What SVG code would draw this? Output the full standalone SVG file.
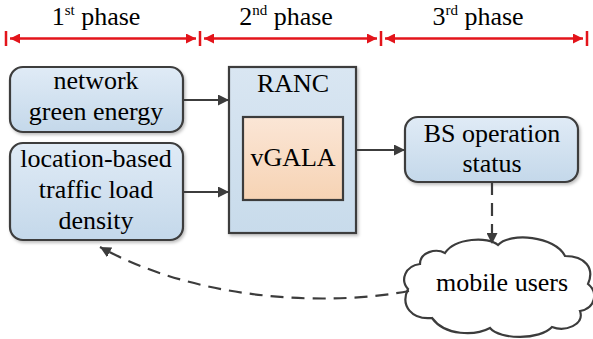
<svg xmlns="http://www.w3.org/2000/svg" width="593" height="339" viewBox="0 0 593 339">
<defs>
<style>
.box{stroke:#3c3c3c;stroke-width:2.2;}
.conn{fill:none;stroke:#3c3c3c;stroke-width:2.2;}
.dash{stroke-dasharray:13 8;}
.red{stroke:#e3141b;stroke-width:2.5;fill:none;}
</style>
<linearGradient id="gBlue" x1="0" y1="0" x2="0" y2="1">
<stop offset="0" stop-color="#e0ebf6"/><stop offset="1" stop-color="#c4d8ea"/>
</linearGradient>
<linearGradient id="gRanc" x1="0" y1="0" x2="0" y2="1">
<stop offset="0" stop-color="#d9e6f2"/><stop offset="1" stop-color="#c8dbeb"/>
</linearGradient>
<linearGradient id="gOrange" x1="0" y1="0" x2="0" y2="1">
<stop offset="0" stop-color="#fbe6d6"/><stop offset="1" stop-color="#f6d3b4"/>
</linearGradient>
<filter id="sh" x="-10%" y="-10%" width="120%" height="130%">
<feDropShadow dx="1.5" dy="2" stdDeviation="1.5" flood-color="#000" flood-opacity="0.25"/>
</filter>
<marker id="ah" viewBox="0 0 10 10" refX="10" refY="5" markerWidth="5" markerHeight="5" orient="auto" markerUnits="strokeWidth">
<path d="M0,0 L10,5 L0,10 Z" fill="#3c3c3c"/>
</marker>
<marker id="rh" viewBox="0 0 10 10" refX="10" refY="5" markerWidth="6" markerHeight="4" orient="auto-start-reverse" markerUnits="strokeWidth">
<path d="M0,0 L10,5 L0,10 Z" fill="#e3141b"/>
</marker>
</defs>

<g font-family="Liberation Serif, serif" font-size="26" fill="#000" text-anchor="middle">
<g id="phases">
<path class="red" d="M6,31 V46 M200,31 V46 M381,31 V46 M587,31 V46"/>
<line class="red" x1="10" y1="38.5" x2="196" y2="38.5" marker-start="url(#rh)" marker-end="url(#rh)"/>
<line class="red" x1="204" y1="38.5" x2="377" y2="38.5" marker-start="url(#rh)" marker-end="url(#rh)"/>
<line class="red" x1="385" y1="38.5" x2="583" y2="38.5" marker-start="url(#rh)" marker-end="url(#rh)"/>
<text x="96" y="25">1<tspan font-size="15" dy="-10">st</tspan><tspan dy="10"> phase</tspan></text>
<text x="286" y="25">2<tspan font-size="15" dy="-10">nd</tspan><tspan dy="10"> phase</tspan></text>
<text x="478" y="25">3<tspan font-size="15" dy="-10">rd</tspan><tspan dy="10"> phase</tspan></text>
</g>

<g id="node-energy">
<rect class="box" x="10" y="67" width="173" height="65" rx="13" fill="url(#gBlue)" filter="url(#sh)"/>
<text x="96" y="89">network</text>
<text x="96" y="120">green energy</text>
</g>

<g id="node-traffic">
<rect class="box" x="10" y="143" width="173" height="97" rx="13" fill="url(#gBlue)" filter="url(#sh)"/>
<text x="96" y="167">location-based</text>
<text x="96" y="198">traffic load</text>
<text x="96" y="229">density</text>
</g>

<g id="node-ranc">
<rect class="box" x="229" y="67" width="127" height="166" fill="url(#gRanc)" filter="url(#sh)"/>
<text x="293" y="92">RANC</text>
</g>

<g id="node-vgala">
<rect class="box" x="243" y="117" width="100" height="83" fill="url(#gOrange)"/>
<text x="293" y="166">vGALA</text>
</g>

<g id="node-bs">
<rect class="box" x="405" y="117" width="173" height="65" rx="13" fill="url(#gBlue)" filter="url(#sh)"/>
<text x="492" y="142">BS operation</text>
<text x="492" y="172">status</text>
</g>

<g id="node-users">
<path class="box" fill="#fff" d="M408,289 C400,280 405,266 420,264 C420,252 436,248 445,253 C455,238 488,236 498,245 C510,232 555,236 565,256 C585,256 595,268 588,284 C598,292 596,308 580,311 C585,325 565,332 552,327 C540,340 500,340 490,328 C475,336 445,336 432,318 C412,320 400,306 408,289 Z"/>
<text x="502" y="291">mobile users</text>
</g>
</g>

<g id="connectors">
<line class="conn" x1="183" y1="100" x2="229" y2="100" marker-end="url(#ah)"/>
<line class="conn" x1="183" y1="192" x2="229" y2="192" marker-end="url(#ah)"/>
<line class="conn" x1="356" y1="150" x2="405" y2="150" marker-end="url(#ah)"/>
<line class="conn dash" x1="492" y1="182" x2="492" y2="244" marker-end="url(#ah)"/>
<path class="conn dash" d="M409,291 C330,306 200,302 100,247" marker-end="url(#ah)"/>
</g>
</svg>
